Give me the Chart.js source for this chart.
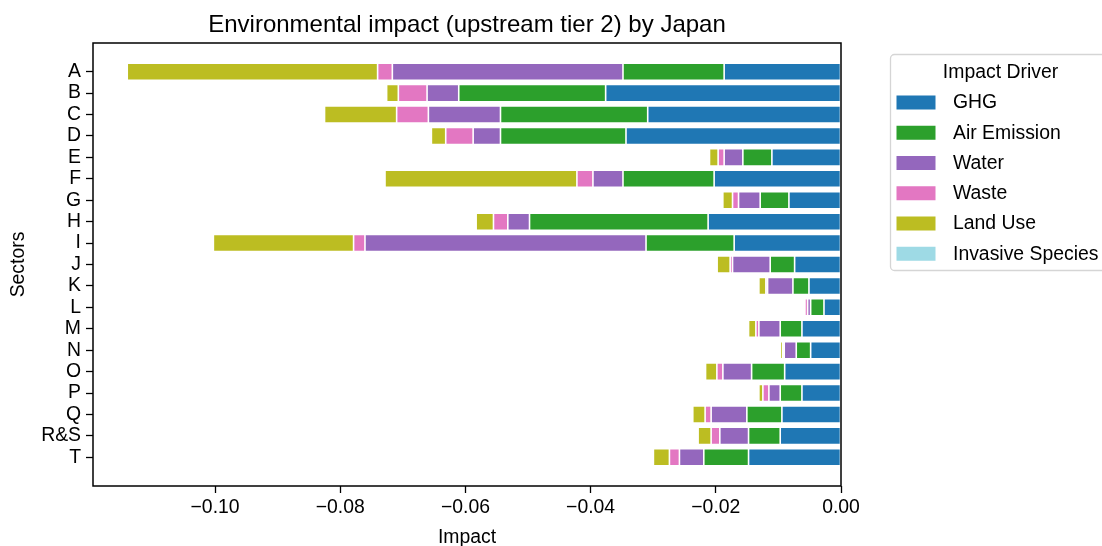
<!DOCTYPE html>
<html>
<head>
<meta charset="utf-8">
<title>Environmental impact (upstream tier 2) by Japan</title>
<script src="https://cdn.jsdelivr.net/npm/chart.js@4/dist/chart.umd.min.js"></script>
<style>
  html, body { margin: 0; padding: 0; background: #fff; overflow: hidden; }
  #wrap { width: 1102px; height: 546px; position: relative; }
</style>
</head>
<body>
<div id="wrap"><canvas id="chart"></canvas></div>
<script>
// Sectors (top to bottom)
const sectors = ['A', 'B', 'C', 'D', 'E', 'F', 'G', 'H', 'I', 'J', 'K', 'L', 'M', 'N', 'O', 'P', 'Q', 'R&S', 'T'];

// Impact per driver and sector
const ghg      = [-0.01867, -0.03760, -0.03088, -0.03435, -0.01104, -0.02027, -0.00832, -0.02123, -0.01707, -0.00741, -0.00512, -0.00272, -0.00624, -0.00485, -0.00900, -0.00624, -0.00944, -0.00971, -0.01477];
const airEmission = [-0.01616, -0.02347, -0.02352, -0.02005, -0.00464, -0.01456, -0.00459, -0.02853, -0.01408, -0.00390, -0.00256, -0.00213, -0.00347, -0.00230, -0.00528, -0.00347, -0.00560, -0.00506, -0.00715];
const water    = [-0.03685, -0.00506, -0.01152, -0.00437, -0.00299, -0.00480, -0.00346, -0.00347, -0.04490, -0.00602, -0.00405, -0.00048, -0.00341, -0.00192, -0.00459, -0.00181, -0.00571, -0.00459, -0.00389];
const waste    = [-0.00235, -0.00459, -0.00507, -0.00438, -0.00096, -0.00256, -0.00096, -0.00229, -0.00182, -0.00038, -0.00027, -0.00043, -0.00048, -0.00026, -0.00096, -0.00096, -0.00096, -0.00139, -0.00160];
const landUse  = [-0.04000, -0.00187, -0.01152, -0.00229, -0.00138, -0.03066, -0.00155, -0.00277, -0.02240, -0.00208, -0.00112, -0.00021, -0.00117, -0.00038, -0.00181, -0.00064, -0.00197, -0.00208, -0.00256];
const invasiveSpecies = [0, 0, 0, 0, 0, 0, 0, 0, 0, 0, 0, 0, 0, 0, 0, 0, 0, 0, 0];

// Driver names and colours
const drivers = ['GHG', 'Air Emission', 'Water', 'Waste', 'Land Use', 'Invasive Species'];
const driverColors = ['#1f77b4', '#2ca02c', '#9467bd', '#e377c2', '#bcbd22', '#9edae5'];
const driverValues = [ghg, airEmission, water, waste, landUse, invasiveSpecies];

// X axis tick values
const impactTicks = [-0.10, -0.08, -0.06, -0.04, -0.02, 0.00];

const FONT = '"Liberation Sans", Arial, Helvetica, sans-serif';
const FS = 19.4;

Chart.defaults.font.family = FONT;
Chart.defaults.color = '#000';

const datasets = drivers.map((name, d) => ({
  label: name,
  data: driverValues[d].map((v, i) => ({ x: v, y: i })),
  backgroundColor: driverColors[d],
  borderColor: 'rgba(255,255,255,0.35)',
  borderWidth: driverValues[d].some(v => v !== 0) ? 0.8 : 0,
  borderSkipped: false,
  barPercentage: 0.8,
  categoryPercentage: 1.0
}));

// Box frame around the plot area
const frame = {
  id: 'frame',
  afterDatasetsDraw(chart) {
    const { ctx, chartArea: a } = chart;
    ctx.save();
    ctx.strokeStyle = '#000';
    ctx.lineWidth = 1.5;
    ctx.strokeRect(a.left, a.top, a.right - a.left, a.bottom - a.top);
    ctx.restore();
  }
};

// Legend with a title, drawn to the right of the plot
const driverLegend = {
  id: 'driverLegend',
  afterDraw(chart) {
    const { ctx, chartArea: a } = chart;
    const x0 = a.right + 49.5, y0 = a.top + 11.5, w = 240, h = 216;
    ctx.save();
    ctx.beginPath();
    ctx.roundRect(x0, y0, w, h, 4);
    ctx.fillStyle = 'rgba(255,255,255,0.8)';
    ctx.fill();
    ctx.strokeStyle = '#d5d5d5';
    ctx.lineWidth = 1.3;
    ctx.stroke();

    ctx.fillStyle = '#000';
    ctx.font = FS + 'px ' + FONT;
    ctx.textBaseline = 'middle';
    ctx.textAlign = 'center';
    ctx.fillText('Impact Driver', x0 + 110, a.top + 29.5);

    ctx.textAlign = 'left';
    chart.data.datasets.forEach((ds, k) => {
      const cy = a.top + 59.5 + k * 30.25;
      ctx.fillStyle = ds.backgroundColor;
      ctx.fillRect(x0 + 6, cy - 7, 39, 14);
      ctx.fillStyle = '#000';
      ctx.fillText(ds.label, x0 + 62.5, cy + 0.5);
    });
    ctx.restore();
  }
};

new Chart(document.getElementById('chart'), {
  type: 'bar',
  data: { datasets },
  options: {
    indexAxis: 'y',
    responsive: true,
    maintainAspectRatio: false,
    animation: false,
    datasets: { bar: { barPercentage: 0.8, categoryPercentage: 1.0 } },
    layout: { padding: { left: 0, right: 261, top: 0, bottom: 0 } },
    plugins: {
      legend: { display: false },
      tooltip: { enabled: false },
      title: {
        display: true,
        fullSize: false,
        text: 'Environmental impact (upstream tier 2) by Japan',
        color: '#000',
        font: { size: 24, weight: 'normal', family: FONT },
        padding: { top: 10.5, bottom: 3.7 }
      }
    },
    scales: {
      x: {
        type: 'linear',
        stacked: true,
        offset: false,
        bounds: 'data',
        min: -0.1195,
        max: 0,
        afterBuildTicks: s => { s.ticks = impactTicks.map(v => ({ value: v })); },
        afterFit: s => { s.height = 60; },
        grid: { display: true, offset: false, drawOnChartArea: false, drawTicks: true, tickLength: 7, tickWidth: 1.3, tickColor: '#000' },
        border: { display: false },
        ticks: {
          padding: 3,
          font: { size: FS },
          color: '#000',
          maxRotation: 0,
          autoSkip: false,
          callback: v => v.toFixed(2).replace('-', '\u2212')
        },
        title: { display: true, text: 'Impact', color: '#000', font: { size: FS }, padding: { top: 0, bottom: -3 } }
      },
      y: {
        type: 'linear',
        stacked: true,
        reverse: true,
        offset: false,
        bounds: 'data',
        min: -1.34,
        max: 19.34,
        afterBuildTicks: s => { s.ticks = sectors.map((_, i) => ({ value: i })); },
        afterFit: s => { s.width = 93; },
        grid: { display: true, offset: false, drawOnChartArea: false, drawTicks: true, tickLength: 7, tickWidth: 1.3, tickColor: '#000' },
        border: { display: false },
        ticks: {
          padding: 5,
          font: { size: FS },
          color: '#000',
          autoSkip: false,
          callback: v => sectors[v] !== undefined ? sectors[v] : ''
        },
        title: { display: true, text: 'Sectors', color: '#000', font: { size: FS }, padding: { top: 7, bottom: 0 } }
      }
    }
  },
  plugins: [frame, driverLegend]
});
</script>
</body>
</html>
